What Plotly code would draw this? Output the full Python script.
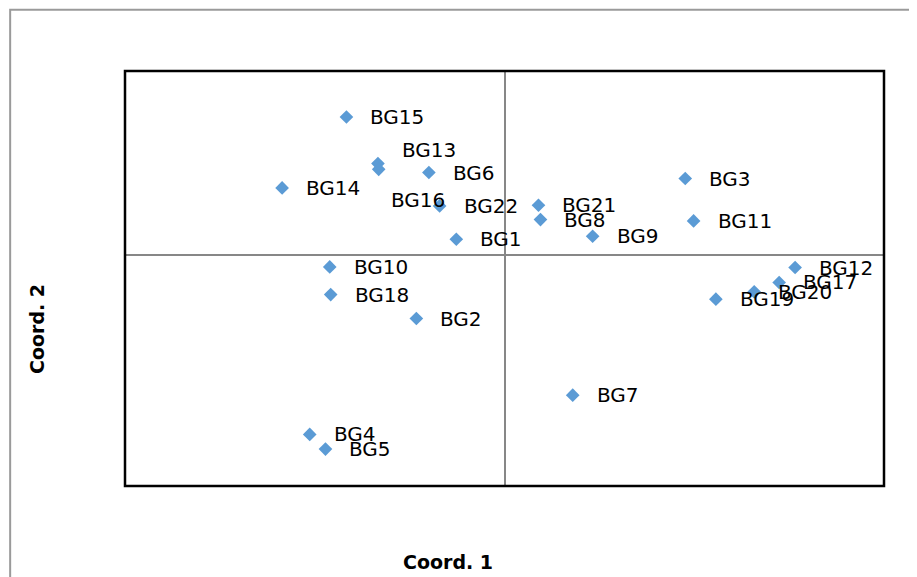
import plotly.graph_objects as go

# ---- data ----
names = ["BG1", "BG2", "BG3", "BG4", "BG5", "BG6", "BG7", "BG8", "BG9", "BG10", "BG11",
         "BG12", "BG13", "BG14", "BG15", "BG16", "BG17", "BG18", "BG19", "BG20", "BG21", "BG22"]
coord1 = [-0.0508, -0.0929, 0.1905, -0.2053, -0.1887, -0.0797, 0.0719, 0.0379, 0.0929, -0.1842, 0.1993,
          0.3063, -0.1334, -0.2344, -0.1666, -0.1326, 0.2895, -0.1832, 0.2228, 0.2632, 0.0358, -0.0684]
coord2 = [0.0176, -0.0684, 0.0834, -0.1941, -0.2100, 0.0899, -0.1515, 0.0389, 0.0208, -0.0124, 0.0374,
          -0.0131, 0.0996, 0.0732, 0.1501, 0.0934, -0.0293, -0.0424, -0.0474, -0.0395, 0.0544, 0.0537]

x_range = [-0.4, 0.4]
y_range = [-0.25, 0.2]

# label placement tweaks (pixels) for manually moved labels
label_shift = {"BG13": (0, 14), "BG16": (-12, -31)}

FONT = "DejaVu Sans"

fig = go.Figure()
fig.add_trace(go.Scatter(
    x=coord1, y=coord2, mode="markers",
    marker=dict(symbol="diamond", size=10.5, color="#5B9BD5"),
    hoverinfo="text", text=names, showlegend=False,
))

for n, xv, yv in zip(names, coord1, coord2):
    dx, dy = label_shift.get(n, (0, 0))
    fig.add_annotation(
        x=xv, y=yv, xref="x", yref="y", text=n, showarrow=False,
        xanchor="left", yanchor="middle", xshift=22 + dx, yshift=dy,
        font=dict(family=FONT, size=20, color="#000000"),
    )

# axis titles
fig.add_annotation(x=0.4257, y=-0.1838, xref="paper", yref="paper", text="<b>Coord. 1</b>",
                   showarrow=False, xanchor="center", yanchor="middle",
                   font=dict(family=FONT, size=19, color="#000000"))
fig.add_annotation(x=-0.1151, y=0.3774, xref="paper", yref="paper", text="<b>Coord. 2</b>",
                   showarrow=False, xanchor="center", yanchor="middle", textangle=-90,
                   font=dict(family=FONT, size=19, color="#000000"))

# plot area border
fig.add_shape(type="rect", xref="paper", yref="paper", x0=0, y0=0, x1=1, y1=1,
              line=dict(color="#000000", width=2.5), layer="above")
# outer chart border (extends beyond window)
fig.add_shape(type="rect", xref="paper", yref="paper", x0=-0.1513, y0=-0.4, x1=1.2, y1=1.1475,
              line=dict(color="#9a9a9a", width=2), layer="above")

axis_common = dict(showgrid=False, showticklabels=False, ticks="", showline=False,
                   zeroline=True, zerolinecolor="#878787", zerolinewidth=2)
fig.update_xaxes(range=x_range, **axis_common)
fig.update_yaxes(range=y_range, **axis_common)

fig.update_layout(
    width=909, height=569,
    margin=dict(l=116.5, r=32.5, t=62.5, b=91.3),
    paper_bgcolor="white", plot_bgcolor="white",
    font=dict(family=FONT),
)

fig.write_html("out.html")
